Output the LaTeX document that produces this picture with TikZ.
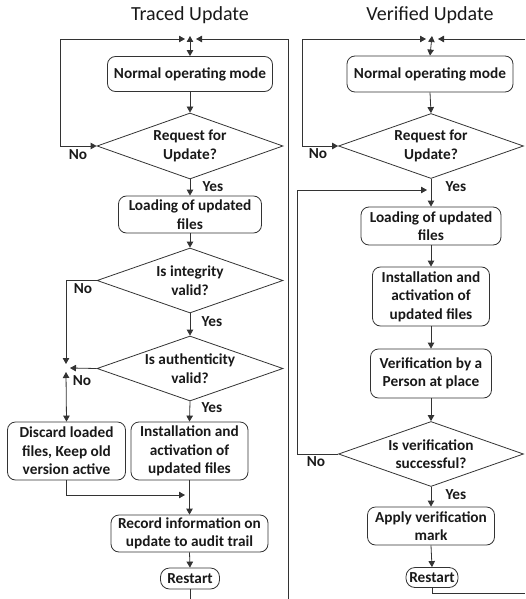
\documentclass[tikz,border=0pt]{standalone}
\usepackage{fontspec}
\setmainfont{Carlito}
\usetikzlibrary{shapes.geometric,arrows.meta}
\begin{document}
\begin{tikzpicture}[x=1pt,y=-1pt,
  line/.style={draw=black!80, line width=0.8pt},
  arr/.style={line, -{Triangle[length=6pt,width=6.5pt]}},
  barr/.style={line, {Triangle[length=6pt,width=6.5pt]}-{Triangle[length=6pt,width=6.5pt]}},
  nodefont/.style={font=\bfseries\fontsize{15.3}{18.5}\selectfont},
  box/.style={draw=black!80, line width=0.8pt, rounded corners=8pt, inner sep=0pt, align=center, nodefont, text=black!90},
  pill/.style={box, rounded corners=9pt},
  dia/.style={draw=black!80, line width=0.8pt, diamond, inner sep=0pt},
  txt/.style={align=center, inner sep=0pt, nodefont, text=black!90},
  lab/.style={inner sep=0pt, nodefont, text=black!90},
  ttl/.style={inner sep=0pt, font=\fontsize{20}{22}\selectfont, text=black!90}
]
\useasboundingbox (0,0) rectangle (525,599);

% ---------------- titles
\node[ttl] (tt1) at (190,15) {Traced Update};
\node[ttl] (tt2) at (430,15) {Verified Update};

% ---------------- left column
\coordinate (jLt) at (190,36);
\coordinate (jLl) at (185,39);
\coordinate (jLr) at (196,39);
\coordinate (bL) at (288,599);

\node[box, minimum width=165pt, minimum height=35pt] (n1) at (190,74) {Normal operating mode};
\node[dia, minimum width=186pt, minimum height=66pt] (d1) at (190,146) {};
\node[txt] (d1t) at (d1) {Request for\\Update?};
\node[box, minimum width=143pt, minimum height=37pt] (l1) at (190,214.5) {Loading of updated\\files};
\node[dia, minimum width=186pt, minimum height=65pt] (d2) at (190,280.5) {};
\node[txt] (d2t) at (d2) {Is integrity\\valid?};
\node[dia, minimum width=186pt, minimum height=65pt] (d3) at (190,368.5) {};
\node[txt] (d3t) at (d3) {Is authenticity\\valid?};
\node[box, minimum width=118pt, minimum height=58pt] (dc) at (66.5,451) {Discard loaded\\files, Keep old\\version active};
\node[box, minimum width=117pt, minimum height=58pt] (i1) at (189.5,451) {Installation and\\activation of\\updated files};
\node[box, minimum width=157pt, minimum height=37pt] (rec) at (189.5,533.5) {Record information on\\update to audit trail};
\node[pill, minimum width=59pt, minimum height=21pt] (r1) at (190,578.5) {Restart};

\coordinate (jA) at (66,368);
\coordinate (jAd) at (66,364);
\coordinate (jAl) at (70,368);
\coordinate (jAu) at (66,372);
\coordinate (mg) at (185,495);

\draw[barr] (jLt) -- (n1.north);
\draw[barr] (d1.west) -- ++(-36,0) |- (jLl);
\draw[arr] (bL) |- (jLr);
\draw[arr] (n1.south) -- (d1.north);
\draw[arr] (d1.south) -- (l1.north);
\draw[arr] (l1.south) -- (d2.north);
\draw[arr] (d2.south) -- (d3.north);
\draw[arr] (d3.south) -- (i1.north);
\draw[arr] (d2.west) -| (jAd);
\draw[arr] (d3.west) -- (jAl);
\draw[barr] (jAu) -- (dc.north);
\draw[arr] (dc.south) |- (mg);
\draw[arr] (i1.south) -- (rec.north);
\draw[arr] (rec.south) -- (r1.north);
\draw[line] (r1.south) -- (r1.south |- bL);

\node[lab] (y1) at (213,187) {Yes};
\node[lab] (y2) at (212,322) {Yes};
\node[lab] (y3) at (212,408) {Yes};
\node[lab] (no1) at (78,155) {No};
\node[lab] (no2) at (83,289) {No};
\node[lab] (no3) at (82,381) {No};

% ---------------- right column
\coordinate (jRt) at (432,36);
\coordinate (jRl) at (426,39);
\coordinate (jRr) at (438,39);
\coordinate (eR) at (525,39);
\coordinate (jV) at (427,190);
\coordinate (eB) at (525,593);

\node[box, minimum width=166pt, minimum height=36pt] (n2) at (430,74) {Normal operating mode};
\node[dia, minimum width=185pt, minimum height=65pt] (d4) at (431,146) {};
\node[txt] (d4t) at (d4) {Request for\\Update?};
\node[box, minimum width=140pt, minimum height=38pt] (l2) at (431,226) {Loading of updated\\files};
\node[box, minimum width=117pt, minimum height=59pt] (i2) at (431,296.5) {Installation and\\activation of\\updated files};
\node[box, minimum width=121pt, minimum height=49pt] (v2) at (431,373.5) {Verification by a\\Person at place};
\node[dia, minimum width=185pt, minimum height=65pt] (d5) at (431,454) {};
\node[txt] (d5t) at (d5) {Is verification\\successful?};
\node[box, minimum width=127pt, minimum height=38pt] (a2) at (431,526) {Apply verification\\mark};
\node[pill, minimum width=52pt, minimum height=20pt] (r2) at (432,577.5) {Restart};

\draw[barr] (jRt) -- (n2.north);
\draw[barr] (d4.west) -- ++(-36,0) |- (jRl);
\draw[arr] (eR) -- (jRr);
\draw[arr] (n2.south) -- (d4.north);
\draw[arr] (d4.south) -- (l2.north);
\draw[arr] (l2.south) -- (i2.north);
\draw[arr] (i2.south) -- (v2.north);
\draw[arr] (v2.south) -- (d5.north);
\draw[arr] (d5.west) -- ++(-41,0) |- (jV);
\draw[arr] (d5.south) -- (a2.north);
\draw[arr] (a2.south) -- (r2.north);
\draw[line] (r2.south) |- (eB);

\node[lab] (y4) at (456,187) {Yes};
\node[lab] (y5) at (456,495) {Yes};
\node[lab] (no4) at (318,154) {No};
\node[lab] (no5) at (316,462) {No};
\end{tikzpicture}
\end{document}
